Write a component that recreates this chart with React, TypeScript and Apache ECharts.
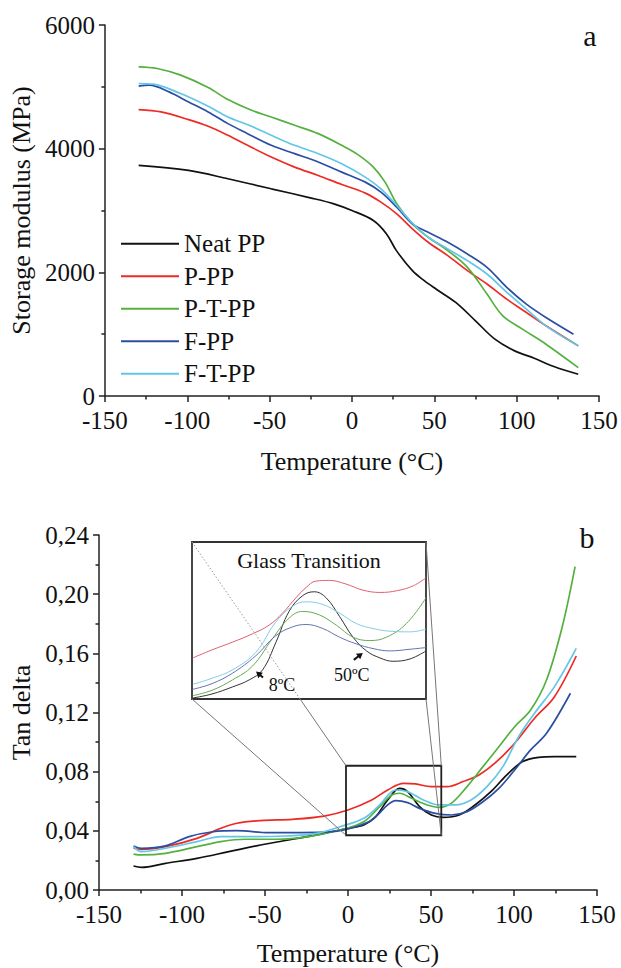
import React, { useEffect, useRef } from "react";
import * as echarts from "echarts";

const FONT = "Liberation Serif";

const seriesNames = ["Neat PP", "P-PP", "P-T-PP", "F-PP", "F-T-PP"];
const seriesColors = ["#111111", "#ee2a24", "#55b040", "#2b4ea2", "#62c6e6"];
const insetColors = ["#333333", "#e06070", "#66aa55", "#6373b0", "#86cce2"];

// (a) Storage modulus (MPa) vs temperature (°C)
const modNeatPP = [[-129.5,3730],[-99.2,3648],[-75.3,3513],[-49,3351],[-25.3,3205],[-11,3108],[0,3000],[13,2838],[21,2621],[27,2351],[36.7,2027],[43.9,1865],[51,1730],[63,1513],[75,1216],[86.8,919],[98.8,730],[110.7,611],[122.6,476],[137.4,351]];
const modPPP = [[-129.5,4632],[-115.9,4594],[-99.2,4470],[-87.3,4362],[-75.3,4216],[-63.4,4054],[-49,3865],[-34.8,3702],[-20.5,3567],[-6.2,3421],[8.1,3281],[17.6,3135],[27.2,2946],[36.7,2703],[46.3,2486],[58.2,2270],[70.1,2027],[82,1811],[94,1567],[105.9,1351],[117.8,1135],[137.4,811]];
const modPTPP = [[-129.5,5324],[-118.3,5297],[-104,5189],[-87.3,4989],[-75.3,4794],[-61,4621],[-49,4513],[-34.8,4378],[-20.5,4243],[-6.2,4054],[3.4,3908],[13,3702],[20.1,3459],[27.2,3108],[36.7,2784],[46.3,2567],[58.2,2351],[70.1,2081],[82,1649],[91.6,1297],[103.5,1081],[117.8,838],[137.4,459]];
const modFPP = [[-129.5,5010],[-123,5027],[-111.1,4918],[-99.2,4756],[-87.3,4594],[-75.3,4405],[-63.4,4243],[-49,4054],[-34.8,3919],[-20.5,3784],[-6.2,3621],[8.1,3459],[17.6,3297],[27.2,3054],[36.7,2784],[46.3,2648],[58.2,2486],[70.1,2297],[82,2081],[94,1757],[105.9,1486],[117.8,1270],[134.5,1000]];
const modFTPP = [[-129.5,5054],[-120.7,5043],[-104,4891],[-87.3,4686],[-75.3,4513],[-61,4362],[-49,4216],[-34.8,4054],[-20.5,3919],[-6.2,3757],[8.1,3540],[17.6,3351],[27.2,3081],[36.7,2795],[46.3,2567],[58.2,2378],[70.1,2189],[82,1973],[94,1676],[105.9,1405],[117.8,1135],[137.4,811]];

// (b) Tan delta vs temperature (°C)
const tanNeatPP = [[-129.2,0.0162],[-124.4,0.0153],[-110,0.018],[-91,0.0214],[-71.8,0.0259],[-52.6,0.0304],[-33.5,0.0343],[-14.4,0.0383],[0,0.0417],[9.5,0.044],[16.7,0.0496],[23.9,0.0609],[31.1,0.0687],[35.9,0.0665],[43.1,0.0564],[50.2,0.0507],[57.4,0.0491],[67,0.0507],[76.5,0.0575],[86.1,0.0665],[95.7,0.0778],[105.2,0.0868],[114.8,0.0897],[124.4,0.0902],[137.5,0.0902]];
const tanPPP = [[-129.2,0.0282],[-124.4,0.0275],[-110,0.0293],[-91,0.0349],[-76.6,0.0417],[-67,0.0451],[-52.6,0.0469],[-33.5,0.0478],[-14.4,0.05],[0,0.0541],[14.3,0.0609],[23.9,0.0676],[33.5,0.0721],[40.6,0.0717],[50.2,0.0699],[59.8,0.0699],[69.3,0.0733],[78.9,0.0778],[88.5,0.0857],[100.4,0.0992],[112.4,0.1161],[124.4,0.1307],[137.5,0.1582]];
const tanPTPP = [[-129.2,0.0243],[-124.4,0.0237],[-110,0.0248],[-91,0.0293],[-76.6,0.0327],[-62.2,0.0343],[-43.1,0.0343],[-24,0.0361],[-4.8,0.0406],[9.5,0.0462],[19.1,0.0564],[26.3,0.0642],[31.1,0.0654],[38.3,0.062],[47.8,0.0575],[55,0.0559],[62.2,0.0586],[71.7,0.0699],[81.3,0.0834],[90.9,0.0969],[100.4,0.1104],[110,0.1217],[119.6,0.142],[129.1,0.1781],[136.8,0.2186]];
const tanFPP = [[-129.2,0.0298],[-124.4,0.0282],[-110,0.0298],[-95.7,0.0361],[-81.3,0.0394],[-67,0.0401],[-47.9,0.0388],[-28.7,0.0388],[-9.6,0.0394],[4.8,0.0428],[14.3,0.0473],[23.9,0.0575],[28.7,0.0604],[35.9,0.0591],[43.1,0.0552],[52.6,0.0518],[62.2,0.0507],[71.7,0.053],[81.3,0.0597],[90.9,0.0687],[100.4,0.0811],[110,0.0947],[119.6,0.1059],[134,0.133]];
const tanFTPP = [[-129.2,0.0293],[-124.4,0.0259],[-110,0.0282],[-91,0.0327],[-76.6,0.0361],[-57.4,0.0361],[-38.3,0.0365],[-19.1,0.0383],[-4.8,0.0428],[9.5,0.0485],[19.1,0.0575],[28.7,0.0676],[35.9,0.0665],[45.4,0.0609],[55,0.0575],[64.6,0.0575],[74.1,0.0609],[83.7,0.0699],[93.3,0.0834],[102.8,0.1037],[112.4,0.1195],[124.4,0.1375],[137.5,0.1634]];

// Glass transition inset (zoomed region)
const zoomX = [-1.2, 56.2];
const zoomY = [0.037, 0.084];
const insNeatPP = [[-1,0.0373],[3.7,0.0385],[8.7,0.0406],[12.8,0.0427],[16.1,0.0457],[19.4,0.054],[22.6,0.0632],[25.9,0.0679],[28.8,0.0691],[31.7,0.0673],[35,0.0617],[38.3,0.0555],[41.6,0.0514],[44.9,0.0493],[48.1,0.0483],[52.3,0.049],[56.2,0.0514]];
const insPPP = [[-1,0.0493],[3.7,0.0517],[8.7,0.054],[13.6,0.0565],[17.7,0.0591],[21,0.0627],[24.3,0.0673],[26.8,0.0704],[29.2,0.0723],[32.5,0.0725],[36.6,0.0714],[40.7,0.0696],[44.9,0.0689],[49,0.0694],[53.1,0.0709],[56.2,0.0733]];
const insPTPP = [[-1,0.038],[3.7,0.0396],[8.7,0.0427],[13.6,0.0468],[18.5,0.055],[22.6,0.0612],[25.9,0.0632],[30,0.0622],[34.2,0.0591],[38.3,0.0555],[42.4,0.0545],[46.5,0.0555],[51.4,0.0596],[56.2,0.0673]];
const insFPP = [[-1,0.0399],[3.7,0.0416],[8.7,0.0447],[14.4,0.0499],[19.4,0.056],[23.5,0.0586],[26.8,0.0593],[30.9,0.0581],[35,0.0555],[39.1,0.0535],[43.2,0.0521],[47.3,0.0514],[52.3,0.0519],[56.2,0.0524]];
const insFTPP = [[-1,0.0414],[3.7,0.0432],[8.7,0.0457],[14.4,0.0509],[19.4,0.0601],[23.5,0.0648],[26.8,0.0661],[30.9,0.0653],[35,0.0627],[39.1,0.0596],[43.2,0.0581],[47.3,0.0573],[52.3,0.0571],[56.2,0.0579]];

const xTicks = { min: -150, max: 150, interval: 50 };

const modData = [modNeatPP, modPPP, modPTPP, modFPP, modFTPP];
const tanData = [tanNeatPP, tanPPP, tanPTPP, tanFPP, tanFTPP];
const insData = [insNeatPP, insPPP, insPTPP, insFPP, insFTPP];

function axisCommon() {
  return {
    axisLine: { show: true, onZero: false, lineStyle: { color: "#222", width: 1.5 } },
    axisTick: { show: true, inside: false, length: 6, lineStyle: { color: "#222", width: 1.5 } },
    minorTick: { show: true, splitNumber: 2, length: 3.5, lineStyle: { color: "#222", width: 1.5 } },
    splitLine: { show: false },
    minorSplitLine: { show: false },
    axisLabel: { fontFamily: FONT, fontSize: 25, color: "#111" },
    nameTextStyle: { fontFamily: FONT, fontSize: 26, color: "#111" },
  };
}

export default function App() {
  const ref = useRef<HTMLDivElement>(null);
  useEffect(() => {
    if (!ref.current) return;
    const chart = echarts.init(ref.current, null, { renderer: "svg" });
    const series: any[] = [];
    seriesNames.forEach((n, i) => {
      series.push({ name: n, type: "line", xAxisIndex: 0, yAxisIndex: 0, data: modData[i], symbol: "none", smooth: 0.35, lineStyle: { color: seriesColors[i], width: 1.7 }, itemStyle: { color: seriesColors[i] }, z: 3 });
    });
    seriesNames.forEach((n, i) => {
      series.push({ name: n, type: "line", xAxisIndex: 1, yAxisIndex: 1, data: tanData[i], symbol: "none", smooth: 0.35, lineStyle: { color: seriesColors[i], width: 1.7 }, itemStyle: { color: seriesColors[i] }, z: 3 });
    });
    seriesNames.forEach((n, i) => {
      series.push({ name: n, type: "line", xAxisIndex: 2, yAxisIndex: 2, data: insData[i], symbol: "none", smooth: 0.4, clip: true, lineStyle: { color: insetColors[i], width: 1 }, itemStyle: { color: insetColors[i] }, z: 5 });
    });
    const c = axisCommon();
    const option: any = {
      animation: false,
      backgroundColor: "#fff",
      textStyle: { fontFamily: FONT },
      grid: [
        { left: 99, top: 25, width: 500, height: 371 },
        { left: 99, top: 535, width: 498, height: 355 },
        { left: 192, top: 542, width: 234, height: 157, show: true, backgroundColor: "#fff", borderColor: "#333", borderWidth: 1.8, z: 4 },
      ],
      legend: {
        data: seriesNames,
        orient: "vertical",
        left: 116,
        top: 226,
        icon: "rect",
        itemWidth: 58,
        itemHeight: 2,
        itemGap: 7,
        textStyle: { fontFamily: FONT, fontSize: 25, color: "#111", lineHeight: 25.5 },
      },
      xAxis: [
        { ...c, gridIndex: 0, type: "value", ...xTicks, axisLabel: { ...c.axisLabel, margin: 12, formatter: (v: number) => String(v) }, name: "Temperature (°C)", nameLocation: "middle", nameGap: 52 },
        { ...c, gridIndex: 1, type: "value", ...xTicks, axisLabel: { ...c.axisLabel, margin: 12, formatter: (v: number) => String(v) }, name: "Temperature (°C)", nameLocation: "middle", nameGap: 50 },
        { gridIndex: 2, type: "value", min: zoomX[0], max: zoomX[1], show: false },
      ],
      yAxis: [
        { ...c, gridIndex: 0, type: "value", min: 0, max: 6000, interval: 2000, axisLabel: { ...c.axisLabel, margin: 10, formatter: (v: number) => String(v) }, name: "Storage modulus (MPa)", nameLocation: "middle", nameGap: 58 },
        { ...c, gridIndex: 1, type: "value", min: 0, max: 0.24, interval: 0.04, axisLabel: { ...c.axisLabel, margin: 10, formatter: (v: number) => v.toFixed(2).replace(".", ",") }, name: "Tan delta", nameLocation: "middle", nameGap: 64 },
        { gridIndex: 2, type: "value", min: zoomY[0], max: zoomY[1], show: false },
      ],
      series,
    };
    chart.setOption(option);

    const p = (g: number, x: number, y: number) => chart.convertToPixel({ gridIndex: g } as any, [x, y]) as number[];
    const rTL = p(1, zoomX[0], zoomY[1]);
    const rBR = p(1, zoomX[1], zoomY[0]);
    const rTR = [rBR[0], rTL[1]];
    const rBL = [rTL[0], rBR[1]];
    const iTL = p(2, zoomX[0], zoomY[1]);
    const iBR = p(2, zoomX[1], zoomY[0]);
    const iTR = [iBR[0], iTL[1]];
    const iBL = [iTL[0], iBR[1]];
    const t = (iBL[1] - iTL[1]) / (rTL[1] - iTL[1]);
    const xi = iTL[0] + t * (rTL[0] - iTL[0]);
    const conn = { stroke: "#777", lineWidth: 1 };
    const line = (a: number[], b: number[], style: any, z = 6) => ({ type: "line", z, shape: { x1: a[0], y1: a[1], x2: b[0], y2: b[1] }, style });
    const arrow = (head: number[], dx: number, dy: number) => {
      const len = Math.hypot(dx, dy);
      const ux = dx / len, uy = dy / len;
      const hl = 6, hw = 3.5;
      const bx = head[0] + ux * hl, by = head[1] + uy * hl;
      return [
        line([head[0] + ux * 3, head[1] + uy * 3], [head[0] + dx, head[1] + dy], { stroke: "#111", lineWidth: 2 }, 8),
        { type: "polygon", z: 8, shape: { points: [[head[0], head[1]], [bx - uy * hw, by + ux * hw], [bx + uy * hw, by - ux * hw]] }, style: { fill: "#111" } },
      ];
    };
    const h8 = p(2, 14.5, 0.0452);
    const h50 = p(2, 40.7, 0.0508);
    const graphic: any[] = [
      { type: "rect", z: 6, shape: { x: rTL[0], y: rTL[1], width: rBR[0] - rTL[0], height: rBR[1] - rTL[1] }, style: { fill: "none", stroke: "#222", lineWidth: 1.8 } },
      line(iTL, [xi, iBL[1]], { stroke: "#999", lineWidth: 1, lineDash: [1.5, 2] }, 8),
      line([xi, iBL[1]], rTL, conn),
      line(iBL, rBL, conn),
      line(iTR, rTR, conn),
      line(iBR, rBR, conn),
      { type: "text", z: 8, x: (iTL[0] + iTR[0]) / 2, y: iTL[1] + 18, style: { text: "Glass Transition", font: `22px '${FONT}'`, fill: "#111", align: "center", verticalAlign: "middle" } },
      ...arrow(h8, 7, 6),
      ...arrow(h50, -9, 7),
      { type: "text", z: 8, x: h8[0] + 26, y: h8[1] + 13, style: { text: "8ºC", font: `18px '${FONT}'`, fill: "#111", align: "center", verticalAlign: "middle" } },
      { type: "text", z: 8, x: h50[0] - 11, y: h50[1] + 22, style: { text: "50ºC", font: `18px '${FONT}'`, fill: "#111", align: "center", verticalAlign: "middle" } },
      { type: "text", z: 8, x: 590, y: 35, style: { text: "a", font: `30px '${FONT}'`, fill: "#111", align: "center", verticalAlign: "middle" } },
      { type: "text", z: 8, x: 587, y: 537, style: { text: "b", font: `30px '${FONT}'`, fill: "#111", align: "center", verticalAlign: "middle" } },
    ];
    chart.setOption({ graphic });
    return () => chart.dispose();
  }, []);
  return <div ref={ref} style={{ position: "absolute", left: 0, top: 0, width: 621, height: 968 }} />;
}
